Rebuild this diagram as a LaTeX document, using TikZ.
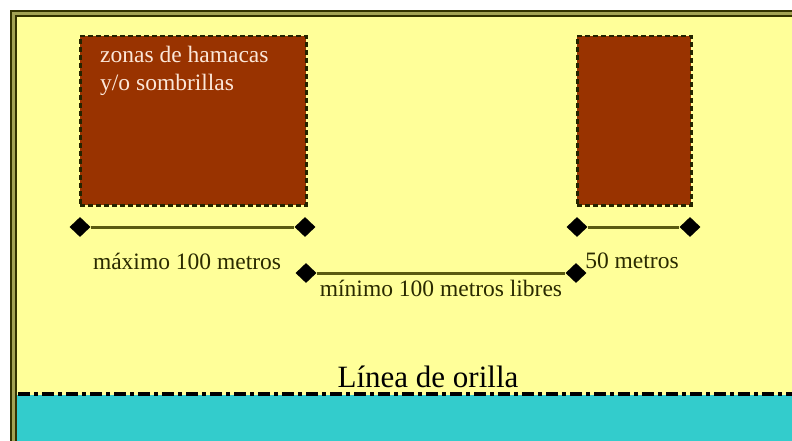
\documentclass[tikz,border=0pt]{standalone}
\usepackage{fontspec}
\setmainfont{Liberation Serif}
\usetikzlibrary{shapes.geometric}
\definecolor{sand}{HTML}{FFFF99}
\definecolor{sea}{HTML}{33CCCC}
\definecolor{zonebrown}{HTML}{993300}
\definecolor{frame}{HTML}{333300}
\definecolor{dimline}{HTML}{5A5A10}
\definecolor{zonetext}{HTML}{FBE6D8}
\definecolor{txt}{HTML}{2A2A00}
\tikzset{
  zone/.style={fill=zonebrown, draw=frame!70!black, line width=2.5pt, dash pattern=on 5pt off 3pt},
  tip/.style={diamond, fill=black, inner sep=0pt, minimum width=21pt, minimum height=20pt},
  dim/.style={draw=dimline, line width=3pt},
  lab/.style={text=txt, font=\fontsize{23.5}{27}\selectfont, inner sep=0pt}
}
\begin{document}
\begin{tikzpicture}[x=1pt,y=-1pt]
\useasboundingbox (0,0) rectangle (792,441);
\fill[white] (0,0) rectangle (792,441);
\fill[sand] (13,13) rectangle (792,441);
\fill[sea] (13,395) rectangle (792,441);
% frame
\draw[frame, line width=2.3pt, double=frame!45!sand, double distance=2.5pt] (800,13.5) -- (13.5,13.5) -- (13.5,445);
% shoreline
\coordinate (s1) at (18,394);
\coordinate (s2) at (792,394);
\draw[black, line width=3.2pt, dash pattern=on 12pt off 4pt on 4pt off 4pt] (s1) -- (s2);
\node[text=black, font=\fontsize{31}{36}\selectfont, anchor=base, inner sep=0pt] (shore) at (428,387) {Línea de orilla};
% zones
\node[zone, minimum width=226pt, minimum height=169pt, inner sep=0pt, anchor=north west] (zoneA) at (79,35) {};
\node[zone, minimum width=114pt, minimum height=169pt, inner sep=0pt, anchor=north west] (zoneB) at (576,35) {};
\node[text=zonetext, font=\fontsize{23.5}{28}\selectfont, align=left, anchor=north west, inner sep=0pt] (zlabel) at (100,46) {zonas de hamacas\\y/o sombrillas};
% dimension tips
\node[tip] (a1) at (80,227) {};
\node[tip] (a2) at (305,227) {};
\node[tip] (b1) at (577,227) {};
\node[tip] (b2) at (690,227) {};
\node[tip] (c1) at (306,273) {};
\node[tip] (c2) at (576,273) {};
\draw[dim] (a1) -- (a2);
\draw[dim] (b1) -- (b2);
\draw[dim] (c1) -- (c2);
% labels
\node[lab, anchor=base] (la) at (187,269) {máximo 100 metros};
\node[lab, anchor=base] (lb) at (632,268) {50 metros};
\node[lab, anchor=base] (lc) at (441,296) {mínimo 100 metros libres};
\end{tikzpicture}
\end{document}
